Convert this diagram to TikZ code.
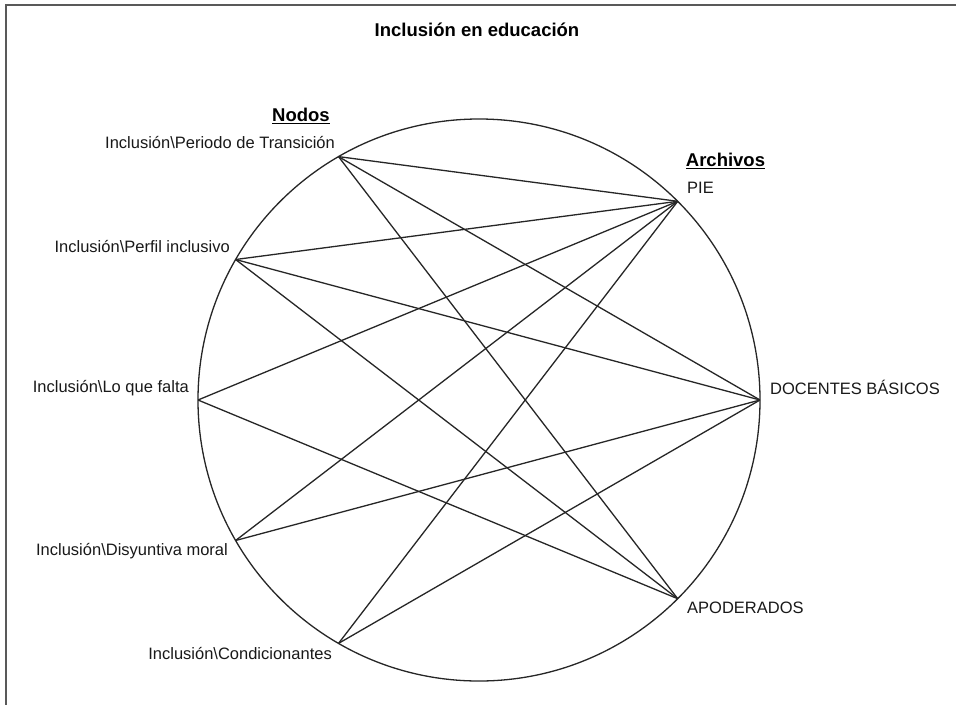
\documentclass[tikz,border=0pt]{standalone}
\usepackage{fontspec}
\setmainfont{Liberation Sans}
\begin{document}
\begin{tikzpicture}[x=1pt,y=-1pt,
  lbl/.style={font=\fontsize{16.5}{18}\selectfont, inner sep=0pt, text=black!90},
  hdr/.style={font=\fontsize{18.5}{20}\selectfont\bfseries, inner sep=0pt},
  link/.style={draw=black!85, line width=1.3pt},
  pt/.style={circle, inner sep=0pt, minimum size=0pt}]
\useasboundingbox (0,0) rectangle (956,705);
\fill[white] (0,0) rectangle (956,705);
% frame
\draw[black!65, line width=1.6pt] (956,5) -- (6,5) -- (6,705);
% title
\node[hdr] (title) at (477,30) {Inclusión en educación};
% circle
\node[draw=black!85, line width=1.3pt, circle, minimum size=562pt, inner sep=0pt] (ring) at (479,400) {};
% points on the circle
\node[pt] (per) at (338.5,156.6) {};
\node[pt] (pfl) at (235.6,259.5) {};
\node[pt] (lqf) at (198,400) {};
\node[pt] (dis) at (235.6,540.5) {};
\node[pt] (con) at (338.5,643.4) {};
\node[pt] (pie) at (677.7,201.3) {};
\node[pt] (doc) at (760,400) {};
\node[pt] (apo) at (677.7,598.7) {};
% headers
\node[hdr] (nodos) at (301,116) {\underline{Nodos}};
\node[hdr] (arch) at (725.5,161) {\underline{Archivos}};
% labels
\node[lbl, anchor=east] (lper) at (335,143) {Inclusión\textbackslash Periodo de Transición};
\node[lbl, anchor=east] (lpfl) at (230,246) {Inclusión\textbackslash Perfil inclusivo};
\node[lbl, anchor=east] (llqf) at (189,388) {Inclusión\textbackslash Lo que falta};
\node[lbl, anchor=east] (ldis) at (228,551) {Inclusión\textbackslash Disyuntiva moral};
\node[lbl, anchor=east] (lcon) at (332,653) {Inclusión\textbackslash Condicionantes};
\node[lbl, anchor=west] (lpie) at (687,188) {PIE};
\node[lbl, anchor=west] (ldoc) at (770,387) {DOCENTES BÁSICOS};
\node[lbl, anchor=west] (lapo) at (687,608) {APODERADOS};
% links
\foreach \a/\b in {per/pie, per/doc, per/apo, pfl/pie, pfl/doc, pfl/apo, lqf/pie, lqf/apo, dis/pie, dis/doc, con/pie, con/doc}
  \draw[link] (\a) -- (\b);
\end{tikzpicture}
\end{document}
